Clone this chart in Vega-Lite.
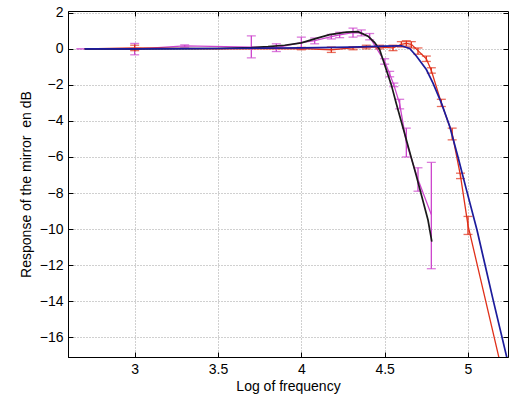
{
  "$schema": "https://vega.github.io/schema/vega-lite/v6.json",
  "width": 440,
  "height": 346,
  "autosize": {"type": "none"},
  "padding": {"left": 68, "top": 11, "right": 1, "bottom": 39},
  "background": "white",
  "config": {
    "view": {"stroke": "black", "strokeWidth": 1},
    "axis": {
      "labelFont": "Liberation Sans",
      "labelFontSize": 14,
      "labelColor": "black",
      "titleFont": "Liberation Sans",
      "titleFontSize": 14,
      "titleFontWeight": "normal",
      "titleColor": "black",
      "domainColor": "black",
      "tickColor": "black",
      "tickSize": -5,
      "labelPadding": 10,
      "gridColor": "#a0a0a0",
      "gridDash": [1, 2],
      "gridWidth": 1
    }
  },
  "data": {
    "values": [
      {"s": "m1", "x": 2.7, "y": 0},
      {"s": "m1", "x": 3.0, "y": 0},
      {"s": "m1", "x": 3.3, "y": 0.01},
      {"s": "m1", "x": 3.5, "y": 0.02},
      {"s": "m1", "x": 3.7, "y": 0.07},
      {"s": "m1", "x": 3.8, "y": 0.12},
      {"s": "m1", "x": 3.9, "y": 0.2},
      {"s": "m1", "x": 4.0, "y": 0.33},
      {"s": "m1", "x": 4.09, "y": 0.58},
      {"s": "m1", "x": 4.17, "y": 0.79},
      {"s": "m1", "x": 4.27, "y": 0.93},
      {"s": "m1", "x": 4.34, "y": 0.95},
      {"s": "m1", "x": 4.4, "y": 0.7},
      {"s": "m1", "x": 4.44, "y": 0.35},
      {"s": "m1", "x": 4.47, "y": -0.05},
      {"s": "m1", "x": 4.49, "y": -0.6},
      {"s": "m1", "x": 4.54, "y": -2.0},
      {"s": "m1", "x": 4.57, "y": -3.05},
      {"s": "m1", "x": 4.6, "y": -4.04},
      {"s": "m1", "x": 4.63, "y": -5.05},
      {"s": "m1", "x": 4.66, "y": -6.05},
      {"s": "m1", "x": 4.69, "y": -7.05},
      {"s": "m1", "x": 4.72, "y": -8.1},
      {"s": "m1", "x": 4.76, "y": -9.5},
      {"s": "m1", "x": 4.783, "y": -10.7},

      {"s": "m2", "x": 2.7, "y": 0},
      {"s": "m2", "x": 3.0, "y": 0},
      {"s": "m2", "x": 3.5, "y": 0.02},
      {"s": "m2", "x": 4.0, "y": 0.05},
      {"s": "m2", "x": 4.3, "y": 0.1},
      {"s": "m2", "x": 4.5, "y": 0.15},
      {"s": "m2", "x": 4.6, "y": 0.17},
      {"s": "m2", "x": 4.65, "y": 0.02},
      {"s": "m2", "x": 4.69, "y": -0.4},
      {"s": "m2", "x": 4.75, "y": -1.15},
      {"s": "m2", "x": 4.79, "y": -1.9},
      {"s": "m2", "x": 4.84, "y": -3.0},
      {"s": "m2", "x": 4.89, "y": -4.3},
      {"s": "m2", "x": 4.94, "y": -6.0},
      {"s": "m2", "x": 4.99, "y": -7.8},
      {"s": "m2", "x": 5.054, "y": -10.05},
      {"s": "m2", "x": 5.1, "y": -11.9},
      {"s": "m2", "x": 5.15, "y": -13.9},
      {"s": "m2", "x": 5.24, "y": -17.4},

      {"s": "d1", "x": 2.65, "y": 0},
      {"s": "d1", "x": 3.0, "y": -0.02, "lo": -0.33, "hi": 0.3},
      {"s": "d1", "x": 3.3, "y": 0.16, "lo": 0.1, "hi": 0.22},
      {"s": "d1", "x": 3.7, "y": 0.1, "lo": -0.5, "hi": 0.72},
      {"s": "d1", "x": 3.85, "y": 0.07, "lo": -0.15, "hi": 0.28},
      {"s": "d1", "x": 4.0, "y": 0.35, "lo": 0.05, "hi": 0.65},
      {"s": "d1", "x": 4.08, "y": 0.45, "lo": 0.28, "hi": 0.6},
      {"s": "d1", "x": 4.18, "y": 0.68, "lo": 0.55, "hi": 0.8},
      {"s": "d1", "x": 4.23, "y": 0.78, "lo": 0.62, "hi": 0.92},
      {"s": "d1", "x": 4.31, "y": 0.9, "lo": 0.65, "hi": 1.15},
      {"s": "d1", "x": 4.36, "y": 0.88, "lo": 0.72, "hi": 1.05},
      {"s": "d1", "x": 4.41, "y": 0.65, "lo": 0.5, "hi": 0.85},
      {"s": "d1", "x": 4.5, "y": -0.7, "lo": -0.85, "hi": -0.55},
      {"s": "d1", "x": 4.53, "y": -1.4, "lo": -1.55, "hi": -1.25},
      {"s": "d1", "x": 4.555, "y": -2.0, "lo": -2.1, "hi": -1.9},
      {"s": "d1", "x": 4.59, "y": -3.05, "lo": -3.33, "hi": -2.8},
      {"s": "d1", "x": 4.63, "y": -5.2, "lo": -6.0, "hi": -4.4},
      {"s": "d1", "x": 4.7, "y": -7.25, "lo": -7.9, "hi": -6.6},
      {"s": "d1", "x": 4.78, "y": -9.2, "lo": -12.2, "hi": -6.3},

      {"s": "d2", "x": 2.7, "y": 0},
      {"s": "d2", "x": 3.0, "y": 0.05, "lo": -0.1, "hi": 0.2},
      {"s": "d2", "x": 3.5, "y": 0.0},
      {"s": "d2", "x": 4.0, "y": 0.02, "lo": -0.05, "hi": 0.08},
      {"s": "d2", "x": 4.18, "y": -0.05, "lo": -0.2, "hi": 0.1},
      {"s": "d2", "x": 4.31, "y": 0.05, "lo": -0.05, "hi": 0.12},
      {"s": "d2", "x": 4.39, "y": 0.1, "lo": 0.0, "hi": 0.2},
      {"s": "d2", "x": 4.47, "y": 0.1, "lo": 0.0, "hi": 0.2},
      {"s": "d2", "x": 4.55, "y": 0.05, "lo": -0.1, "hi": 0.2},
      {"s": "d2", "x": 4.6, "y": 0.25, "lo": 0.1, "hi": 0.4},
      {"s": "d2", "x": 4.63, "y": 0.3, "lo": 0.15, "hi": 0.45},
      {"s": "d2", "x": 4.66, "y": 0.25, "lo": 0.05, "hi": 0.4},
      {"s": "d2", "x": 4.7, "y": -0.1, "lo": -0.3, "hi": 0.05},
      {"s": "d2", "x": 4.75, "y": -0.55, "lo": -0.7, "hi": -0.4},
      {"s": "d2", "x": 4.78, "y": -1.2, "lo": -1.35, "hi": -1.05},
      {"s": "d2", "x": 4.84, "y": -3.0, "lo": -3.2, "hi": -2.8},
      {"s": "d2", "x": 4.905, "y": -4.7, "lo": -5.05, "hi": -4.4},
      {"s": "d2", "x": 4.955, "y": -7.05, "lo": -7.2, "hi": -6.9},
      {"s": "d2", "x": 5.0, "y": -9.8, "lo": -10.3, "hi": -9.3},
      {"s": "d2", "x": 5.2, "y": -17.7}
    ]
  },
  "layer": [
    {
      "mark": {"type": "point", "opacity": 0},
      "encoding": {
        "x": {
          "field": "x", "type": "quantitative",
          "scale": {"domain": [2.6, 5.24], "nice": false, "zero": false},
          "axis": {"values": [3, 3.5, 4, 4.5, 5], "title": "Log of frequency", "grid": true, "titlePadding": 3, "format": "~g"}
        },
        "y": {
          "field": "y", "type": "quantitative",
          "scale": {"domain": [-17.1, 2.1], "nice": false, "zero": false},
          "axis": {"values": [-16, -14, -12, -10, -8, -6, -4, -2, 0, 2], "title": "Response of the mirror\u00a0 en dB", "grid": true, "titlePadding": 6}
        }
      }
    },
    {
      "mark": {"type": "point", "opacity": 0},
      "encoding": {
        "x": {"field": "x", "type": "quantitative", "axis": {"orient": "top", "values": [3, 3.5, 4, 4.5, 5], "labels": false, "title": null, "grid": false, "domain": false}},
        "y": {"field": "y", "type": "quantitative", "axis": {"orient": "right", "values": [-16, -14, -12, -10, -8, -6, -4, -2, 0, 2], "labels": false, "title": null, "grid": false, "domain": false}}
      }
    },
    {
      "transform": [{"filter": "datum.s === 'd2' || datum.s === 'd1'"}],
      "mark": {"type": "line", "strokeWidth": 1.3, "clip": true},
      "encoding": {
        "x": {"field": "x", "type": "quantitative", "axis": null},
        "y": {"field": "y", "type": "quantitative", "axis": null},
        "color": {"field": "s", "type": "nominal", "legend": null,
          "scale": {"domain": ["d1", "d2", "m1", "m2"], "range": ["#cc44cc", "#e0301a", "#1a1a1a", "#1c1c9c"]}}
      }
    },
    {
      "transform": [{"filter": "isValid(datum.lo)"}],
      "mark": {"type": "rule", "strokeWidth": 1.3},
      "encoding": {
        "x": {"field": "x", "type": "quantitative", "axis": null},
        "y": {"field": "lo", "type": "quantitative", "axis": null},
        "y2": {"field": "hi"},
        "color": {"field": "s", "type": "nominal", "legend": null}
      }
    },
    {
      "transform": [{"filter": "isValid(datum.lo)"}],
      "mark": {"type": "tick", "orient": "horizontal", "size": 9, "thickness": 1.3},
      "encoding": {
        "x": {"field": "x", "type": "quantitative", "axis": null},
        "y": {"field": "lo", "type": "quantitative", "axis": null},
        "color": {"field": "s", "type": "nominal", "legend": null}
      }
    },
    {
      "transform": [{"filter": "isValid(datum.hi)"}],
      "mark": {"type": "tick", "orient": "horizontal", "size": 9, "thickness": 1.3},
      "encoding": {
        "x": {"field": "x", "type": "quantitative", "axis": null},
        "y": {"field": "hi", "type": "quantitative", "axis": null},
        "color": {"field": "s", "type": "nominal", "legend": null}
      }
    },
    {
      "transform": [{"filter": "datum.s === 'm1'"}],
      "mark": {"type": "line", "strokeWidth": 1.7, "clip": true},
      "encoding": {
        "x": {"field": "x", "type": "quantitative", "axis": null},
        "y": {"field": "y", "type": "quantitative", "axis": null},
        "color": {"field": "s", "type": "nominal", "legend": null}
      }
    },
    {
      "transform": [{"filter": "datum.s === 'm2'"}],
      "mark": {"type": "line", "strokeWidth": 1.7, "clip": true},
      "encoding": {
        "x": {"field": "x", "type": "quantitative", "axis": null},
        "y": {"field": "y", "type": "quantitative", "axis": null},
        "color": {"field": "s", "type": "nominal", "legend": null}
      }
    }
  ],
  "resolve": {"axis": {"x": "independent", "y": "independent"}}
}
